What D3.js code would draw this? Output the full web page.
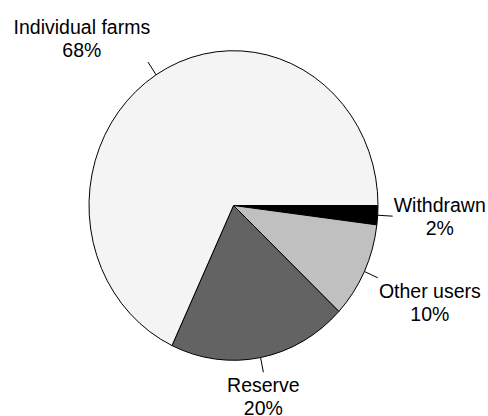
<!DOCTYPE html>
<html>
<head>
<meta charset="utf-8">
<script src="https://cdn.jsdelivr.net/npm/d3@7"></script>
<style>
  html, body { margin: 0; padding: 0; background: #fff; }
  svg { display: block; }
  text { font-family: "Liberation Sans", Arial, sans-serif; font-size: 19.5px; fill: #000; }
</style>
</head>
<body>
<svg id="chart" width="488" height="416"></svg>
<script>
// Data (clockwise from 3 o'clock)
const categories = ["Withdrawn", "Other users", "Reserve", "Individual farms"];
const values = [2, 10, 20, 68];
const colors = ["#000000", "#c0c0c0", "#636363", "#f4f4f4"];

const width = 488, height = 416;
const cx = 233.5, cy = 205.5, rx = 144.5, ry = 154.8;
const svg = d3.select("#chart");

const data = categories.map((c, i) => ({ name: c, value: values[i], color: colors[i] }));
const total = d3.sum(values);

const pie = d3.pie().sort(null).value(d => d.value)
  .startAngle(Math.PI / 2).endAngle(Math.PI / 2 + 2 * Math.PI);
const arcs = pie(data);
const arc = d3.arc().innerRadius(0).outerRadius(rx);

const g = svg.append("g")
  .attr("transform", `translate(${cx},${cy}) scale(1,${ry / rx})`);

g.selectAll("path").data(arcs).join("path")
  .attr("d", arc)
  .attr("fill", d => d.data.color)
  .attr("stroke", "#000")
  .attr("stroke-width", 1)
  .attr("vector-effect", "non-scaling-stroke")
  .attr("stroke-linejoin", "round");

const leaderLen = 15;
const lineGap = 23;
arcs.forEach(d => {
  const a = (d.startAngle + d.endAngle) / 2;
  const s = Math.sin(a), c = -Math.cos(a);
  const x0 = cx + rx * s, y0 = cy + ry * c;
  const x1 = x0 + leaderLen * s, y1 = y0 + leaderLen * c;
  svg.append("line")
    .attr("x1", x0).attr("y1", y0).attr("x2", x1).attr("y2", y1)
    .attr("stroke", "#000").attr("stroke-width", 1);

  let anchor, tx;
  if (s > 0.3) { anchor = "start"; tx = x1 + 1; }
  else if (s < -0.3) { anchor = "end"; tx = x1 + 2; }
  else { anchor = "middle"; tx = x1; }
  let b1;
  if (c > 0.3) b1 = y1 + 20;
  else if (c < -0.3) b1 = y1 - 5 - lineGap;
  else b1 = y1 - 4;

  const pct = Math.round(d.data.value / total * 100) + "%";
  const t = svg.append("text").attr("text-anchor", anchor);
  const lx = anchor === "start" ? tx : anchor === "end" ? tx : tx;
  // Center both lines on the label block
  t.append("tspan").attr("x", lx).attr("y", b1).text(d.data.name);
  t.append("tspan").attr("x", lx).attr("y", b1 + lineGap).text(pct);
  // re-centre lines relative to the block width
  const bb = t.node().getBBox();
  const mid = bb.x + bb.width / 2;
  t.attr("text-anchor", "middle");
  t.selectAll("tspan").attr("x", mid);
});
</script>
</body>
</html>
